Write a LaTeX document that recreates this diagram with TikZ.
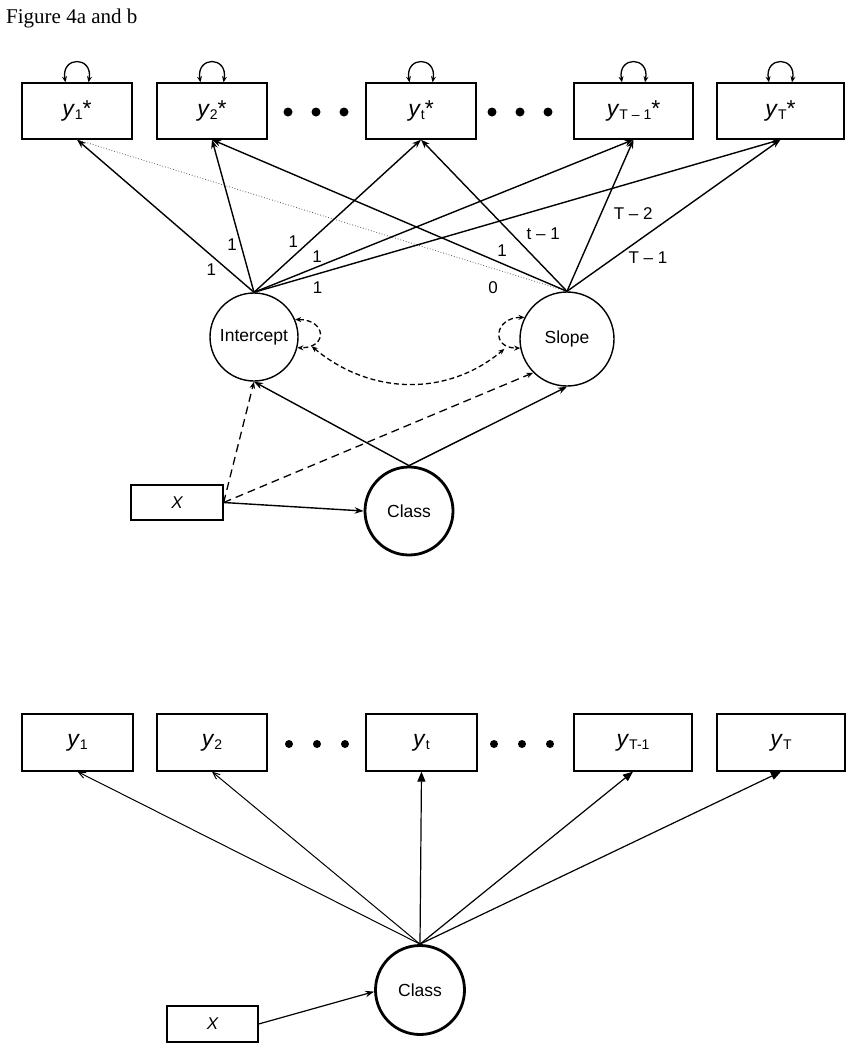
\documentclass[tikz,border=0pt]{standalone}
\usepackage{fontspec}
\setmainfont{Liberation Sans}
\newfontfamily\titlefont{Liberation Serif}
\usetikzlibrary{arrows.meta}
\tikzset{
  obs/.style = { draw, line width=1.3pt, minimum height=56pt, inner sep=0pt, font=\fontsize{23}{23}\selectfont },
  lat/.style = { draw, circle, line width=1.4pt, minimum size=88pt, inner sep=0pt, font=\fontsize{17.5}{20}\selectfont },
  cls/.style = { lat, line width=2.8pt },
  cov/.style = { draw, line width=1.3pt, minimum width=92pt, minimum height=35pt, inner sep=0pt, font=\fontsize{17}{17}\selectfont\itshape },
  elldot/.style = { fill, circle, inner sep=0pt, minimum size=9pt },
  lbl/.style = { inner sep=0pt, font=\fontsize{17}{17}\selectfont },
  arr/.style = { line width=1.4pt, -{Stealth[length=9pt,width=6.5pt]} },
  dasharr/.style = { line width=1.3pt, dash pattern=on 8pt off 5pt, -{Stealth[length=7pt,width=5.5pt]} },
  dotline/.style = { line width=0.8pt, dotted, gray!70!black },
  loopy/.style = { line width=1.3pt, {Stealth[length=6pt,width=5pt]}-{Stealth[length=6pt,width=5pt]} },
  dashloop/.style = { loopy, dash pattern=on 5pt off 3pt },
  thinarr/.style = { line width=1pt, -{Straight Barb[length=7pt,width=6pt]} },
  fullarr/.style = { line width=1.2pt, -{Triangle[length=10pt,width=8pt]} }
}
\newcommand{\yvar}[2]{\textit{y}\raisebox{-3pt}{\fontsize{14}{14}\selectfont #1}#2}

\begin{document}
\begin{tikzpicture}[x=1pt,y=1pt]
  \useasboundingbox (0,0) rectangle (849,-1050);
  \node[anchor=base west, inner sep=0pt, font=\titlefont\fontsize{21}{21}\selectfont] (title) at (6,-23) {Figure 4a and b};

  % figure 4a
  \node[obs, minimum width=110pt] (ya1) at (77,-111) {\yvar{1}{*}};
  \node[obs, minimum width=110pt] (ya2) at (212,-111) {\yvar{2}{*}};
  \node[obs, minimum width=110pt] (yat) at (421,-111) {\yvar{t}{*}};
  \node[obs, minimum width=119pt] (yaT1) at (633.5,-111) {\yvar{T – 1}{*}};
  \node[obs, minimum width=127pt] (yaT) at (780.5,-111) {\yvar{T}{*}};
  \node[elldot] (da1) at (288,-112) {};
  \node[elldot] (da2) at (316,-112) {};
  \node[elldot] (da3) at (344,-112) {};
  \node[elldot] (da4) at (492,-112) {};
  \node[elldot] (da5) at (520,-112) {};
  \node[elldot] (da6) at (548,-112) {};

  \draw[loopy] ([xshift=-11.5pt]ya1.north) .. controls +(100:27) and +(80:27) .. ([xshift=11.5pt]ya1.north);
  \draw[loopy] ([xshift=-11.5pt]ya2.north) .. controls +(100:27) and +(80:27) .. ([xshift=11.5pt]ya2.north);
  \draw[loopy] ([xshift=-11.5pt]yat.north) .. controls +(100:27) and +(80:27) .. ([xshift=11.5pt]yat.north);
  \draw[loopy] ([xshift=-11.5pt]yaT1.north) .. controls +(100:27) and +(80:27) .. ([xshift=11.5pt]yaT1.north);
  \draw[loopy] ([xshift=-11.5pt]yaT.north) .. controls +(100:27) and +(80:27) .. ([xshift=11.5pt]yaT.north);

  \node[lat] (ic) at (254,-337) {Intercept};
  \node[lat, minimum size=94pt] (sl) at (567,-339) {Slope};
  \node[cls] (cla) at (409,-511) {Class};
  \node[cov] (xa) at (177,-502.5) {X};

  \path[dotline] (sl.north) edge node[lbl, text=black, pos=0.151, yshift=-19pt] {0} (ya1.south);
  \path[arr] (ic.north) edge node[lbl, pos=0.15, xshift=-16pt] {1} (ya1.south)
                        edge node[lbl, pos=0.31, xshift=-9pt] {1} (ya2.south)
                        edge node[lbl, pos=0.331, xshift=-16pt] {1} (yat.south)
                        edge node[lbl, pos=0.166, yshift=10pt] {1} (yaT1.south)
                        edge node[lbl, pos=0.121, yshift=-14pt] {1} (yaT.south);
  \path[arr] (sl.north) edge node[lbl, pos=0.183, yshift=13pt] {1} (ya2.south)
                        edge node[lbl, pos=0.382, xshift=32pt] {t – 1} (yat.south)
                        edge node[lbl, pos=0.513, xshift=32pt] {T – 2} (yaT1.south)
                        edge node[lbl, pos=0.379, yshift=-24pt] {T – 1} (yaT.south);

  \draw[dashloop] (ic.23) .. controls +(0:31) and +(0:31) .. (ic.-14);
  \draw[dashloop] (sl.153) .. controls +(180:30) and +(180:30) .. (sl.191);
  \draw[dashloop] ([xshift=14pt]ic.-12) to[out=-40, in=-140] ([xshift=-16pt]sl.192);

  \path[dasharr] (xa.east) edge (ic.south) edge (sl.225);
  \path[arr] (xa.east) edge (cla.west);
  \path[arr] (cla.north) edge (ic.south) edge (sl.south);

  % figure 4b
  \node[obs, minimum width=111pt, minimum height=57pt] (yb1) at (77.5,-742.5) {\yvar{1}{}};
  \node[obs, minimum width=110pt, minimum height=57pt] (yb2) at (212,-742.5) {\yvar{2}{}};
  \node[obs, minimum width=111pt, minimum height=57pt] (ybt) at (421.5,-742.5) {\yvar{t}{}};
  \node[obs, minimum width=118pt, minimum height=57pt] (ybT1) at (633,-742.5) {\yvar{T-1}{}};
  \node[obs, minimum width=128pt, minimum height=57pt] (ybT) at (781,-742.5) {\yvar{T}{}};
  \node[elldot, minimum size=8pt] (db1) at (289,-744) {};
  \node[elldot, minimum size=8pt] (db2) at (317,-744) {};
  \node[elldot, minimum size=8pt] (db3) at (345,-744) {};
  \node[elldot, minimum size=8pt] (db4) at (494,-744) {};
  \node[elldot, minimum size=8pt] (db5) at (522,-744) {};
  \node[elldot, minimum size=8pt] (db6) at (550,-744) {};

  \node[cls, minimum size=89pt] (clb) at (420,-990) {Class};
  \node[cov, minimum width=91pt, minimum height=36pt] (xb) at (212.5,-1024) {X};

  \path[thinarr] (clb.north) edge (yb1.south) edge (yb2.south);
  \path[fullarr] (clb.north) edge (ybt.south) edge (ybT1.south) edge (ybT.south);
  \path[arr, line width=1.2pt] (xb.east) edge (clb.182);
\end{tikzpicture}
\end{document}
